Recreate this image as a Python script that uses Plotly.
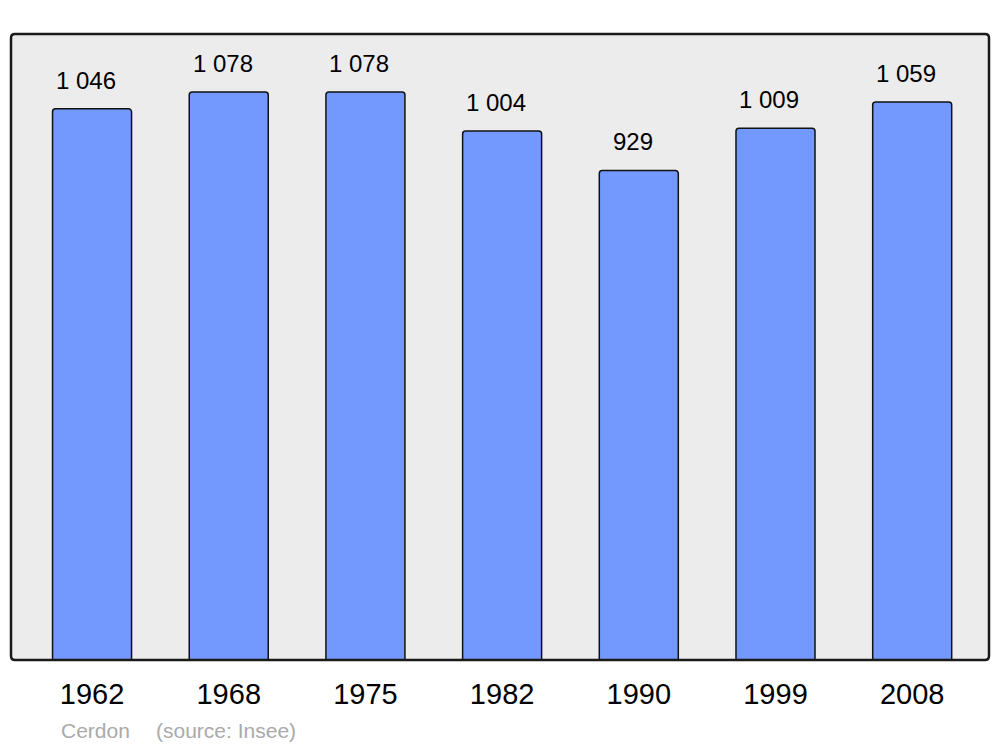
import plotly.graph_objects as go

years = ["1962", "1968", "1975", "1982", "1990", "1999", "2008"]
population = [1046, 1078, 1078, 1004, 929, 1009, 1059]
commune = "Cerdon"
source = "(source: Insee)"

OFF = 8  # page body margin
W, H = 1000 - OFF, 747 - OFF
L, R, T, B = 11 - OFF, 11, 34 - OFF, 87
pw, ph = W - L - R, H - T - B

def fmt(v):
    return f"{v:,}".replace(",", " ")

FONT = "Liberation Sans, Arial, sans-serif"

fig = go.Figure()
fig.add_trace(go.Bar(
    x=years, y=population, width=0.578,
    marker=dict(color="#7399ff", line=dict(color="#111111", width=1.5), cornerradius=3),
    hoverinfo="x+y",
))

for i, v in enumerate(population):
    fig.add_annotation(x=i, y=v, text=fmt(v), showarrow=False, yanchor="bottom",
                       yshift=13, xshift=-6, font=dict(size=24, color="#000000", family=FONT))

ysrc = (H - B - (730 - OFF)) / ph
fig.add_annotation(xref="paper", yref="paper", x=(59 - 11) / pw, y=ysrc,
                   xanchor="left", yanchor="middle", text=commune, showarrow=False,
                   font=dict(size=21, color="#aaaaaa", family=FONT))
fig.add_annotation(xref="paper", yref="paper", x=(154 - 11) / pw, y=ysrc,
                   xanchor="left", yanchor="middle", text=source, showarrow=False,
                   font=dict(size=21, color="#aaaaaa", family=FONT))

# rounded frame around plot area
rx, ry = 4 / pw, 4 / ph
path = (f"M {rx},0 L {1-rx},0 Q 1,0 1,{ry} L 1,{1-ry} Q 1,1 {1-rx},1 "
        f"L {rx},1 Q 0,1 0,{1-ry} L 0,{ry} Q 0,0 {rx},0 Z")
fig.add_shape(type="path", xref="paper", yref="paper", path=path,
              line=dict(color="#1a1a1a", width=2.5), layer="above")

fig.update_layout(
    width=W, height=H,
    margin=dict(l=L, r=R, t=T, b=B),
    paper_bgcolor="#ffffff", plot_bgcolor="#ececec",
    showlegend=False,
    font=dict(family=FONT, color="#000000"),
)
fig.update_xaxes(type="category", range=[-0.593, 6.562], showgrid=False, zeroline=False,
                 showline=False, ticks="", tickfont=dict(size=29, color="#000000"),
                 ticklabelstandoff=14)
fig.update_yaxes(range=[0, 1188], visible=False, showgrid=False, zeroline=False)

fig.write_html("out.html")
